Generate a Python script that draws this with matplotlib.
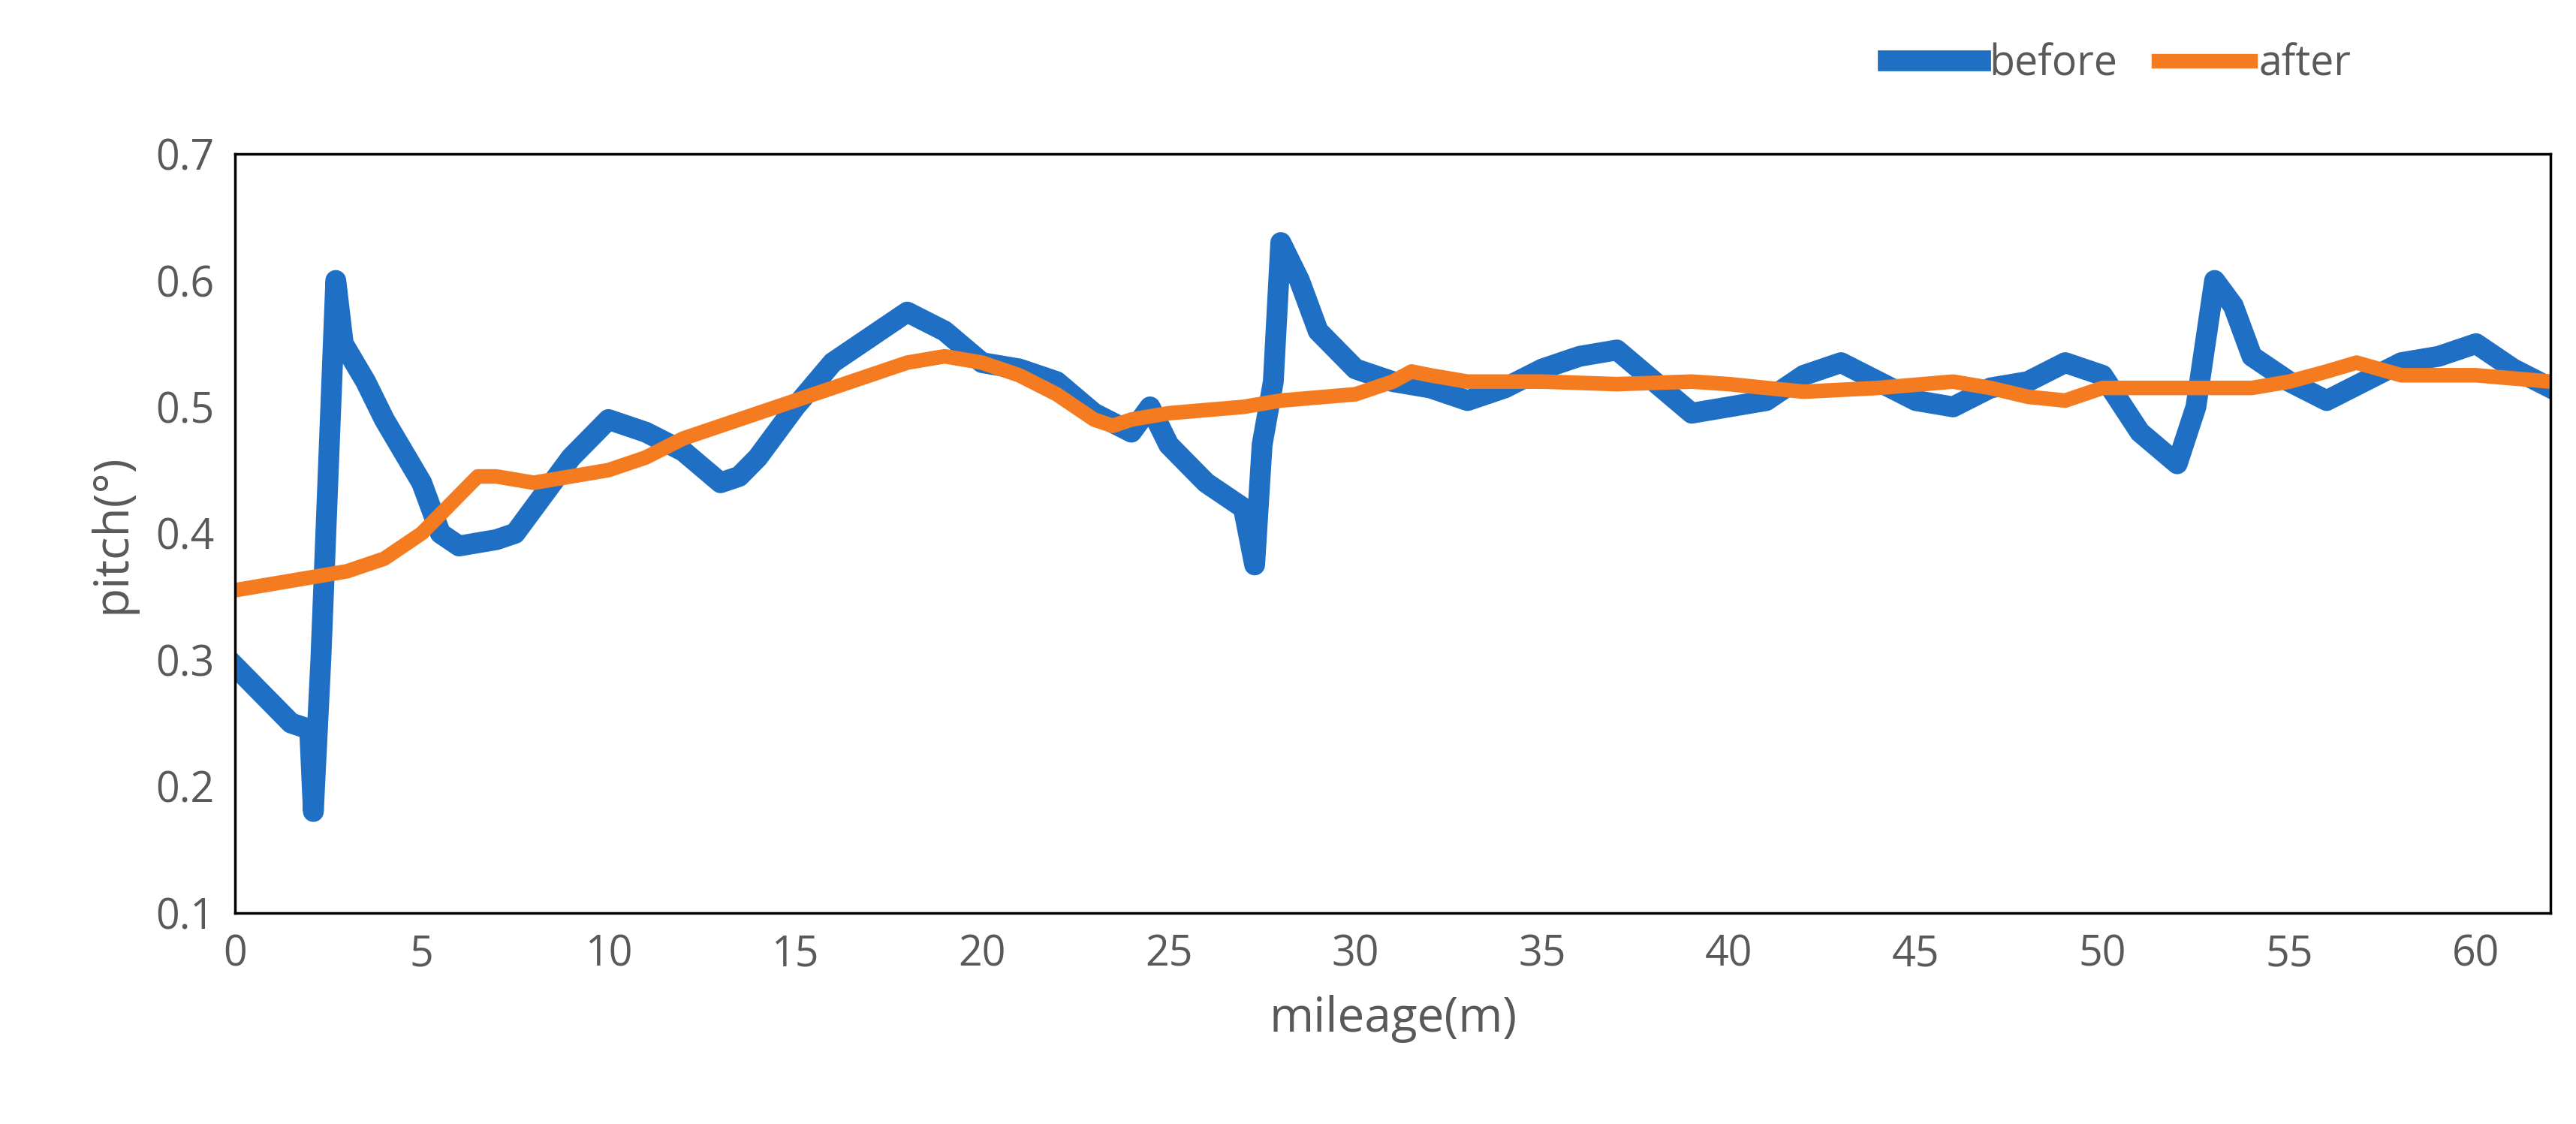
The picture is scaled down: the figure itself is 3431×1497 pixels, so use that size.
import matplotlib.pyplot as plt

plt.rcParams['font.family'] = ['Open Sans', 'DejaVu Sans']

before_x = [0, 0.5, 1, 1.5, 2, 2.1, 2.3, 2.5, 2.7, 2.9, 3.5, 4, 5, 5.5, 6, 7, 7.5, 8, 9, 10,
            11, 12, 13, 13.5, 14, 15, 16, 17, 18, 19, 20, 21, 22, 23, 24, 24.5, 25, 26, 27,
            27.3, 27.5, 27.8, 28, 28.5, 29, 30, 31, 32, 33, 34, 35, 36, 37, 38, 39, 40, 41,
            42, 43, 44, 45, 46, 47, 48, 49, 50, 51, 52, 52.5, 53, 53.5, 54, 55, 56, 57, 58,
            59, 60, 61, 62]
before_y = [0.295, 0.28, 0.265, 0.25, 0.245, 0.18, 0.3, 0.45, 0.6, 0.55, 0.52, 0.49, 0.44,
            0.40, 0.39, 0.395, 0.40, 0.42, 0.46, 0.49, 0.48, 0.465, 0.44, 0.445, 0.46, 0.5,
            0.535, 0.555, 0.575, 0.56, 0.535, 0.53, 0.52, 0.495, 0.48, 0.5, 0.47, 0.44, 0.42,
            0.375, 0.47, 0.52, 0.63, 0.6, 0.56, 0.53, 0.52, 0.515, 0.505, 0.515, 0.53, 0.54,
            0.545, 0.52, 0.495, 0.5, 0.505, 0.525, 0.535, 0.52, 0.505, 0.5, 0.515, 0.52,
            0.535, 0.525, 0.48, 0.455, 0.5, 0.6, 0.58, 0.54, 0.52, 0.505, 0.52, 0.535, 0.54,
            0.55, 0.53, 0.515]

after_x = [0, 1, 2, 3, 4, 5, 6, 6.5, 7, 8, 9, 10, 11, 12, 13, 14, 15, 16, 17, 18, 19, 20,
           21, 22, 23, 23.5, 24, 25, 27, 28, 30, 31, 31.5, 32, 33, 35, 37, 39, 40, 42, 44,
           46, 47, 48, 49, 50, 52, 54, 55, 56, 56.8, 58, 60, 62]
after_y = [0.355, 0.36, 0.365, 0.37, 0.38, 0.40, 0.43, 0.445, 0.445, 0.44, 0.445, 0.45,
           0.46, 0.475, 0.485, 0.495, 0.505, 0.515, 0.525, 0.535, 0.54, 0.535, 0.525, 0.51,
           0.49, 0.485, 0.49, 0.495, 0.5, 0.505, 0.51, 0.52, 0.528, 0.525, 0.52, 0.52,
           0.518, 0.52, 0.518, 0.512, 0.515, 0.52, 0.515, 0.508, 0.505, 0.515, 0.515, 0.515,
           0.52, 0.528, 0.535, 0.525, 0.525, 0.52]

fig = plt.figure(figsize=(34.31, 14.97), dpi=100)
ax = fig.add_axes([0.0912, 0.188, 0.899, 0.675])
ax.plot(before_x, before_y, color='#1f6fc5', lw=20, label='before', solid_joinstyle='round')
ax.plot(after_x, after_y, color='#f47b20', lw=14, label='after', solid_joinstyle='round')

ax.set_xlim(0, 62)
ax.set_ylim(0.1, 0.7)
ax.set_xticks(range(0, 61, 5))
ax.set_yticks([0.1, 0.2, 0.3, 0.4, 0.5, 0.6, 0.7])
ax.set_yticklabels(['0.1', '0.2', '0.3', '0.4', '0.5', '0.6', '0.7'])
ax.tick_params(labelsize=40, colors='#595959', length=0, pad=20)
for s in ax.spines.values():
    s.set_linewidth(2.5)
    s.set_color('black')
ax.set_xlabel('mileage(m)', fontsize=46, color='#595959', labelpad=18)
ax.set_ylabel('pitch(°)', fontsize=46, color='#595959', labelpad=18)

ax.legend(loc='lower right', bbox_to_anchor=(0.93, 1.04), ncol=2, frameon=False,
          fontsize=40, labelcolor='#595959', handlelength=2.2, columnspacing=1.0,
          handletextpad=0.2)

fig.savefig('out.png', dpi=100)
